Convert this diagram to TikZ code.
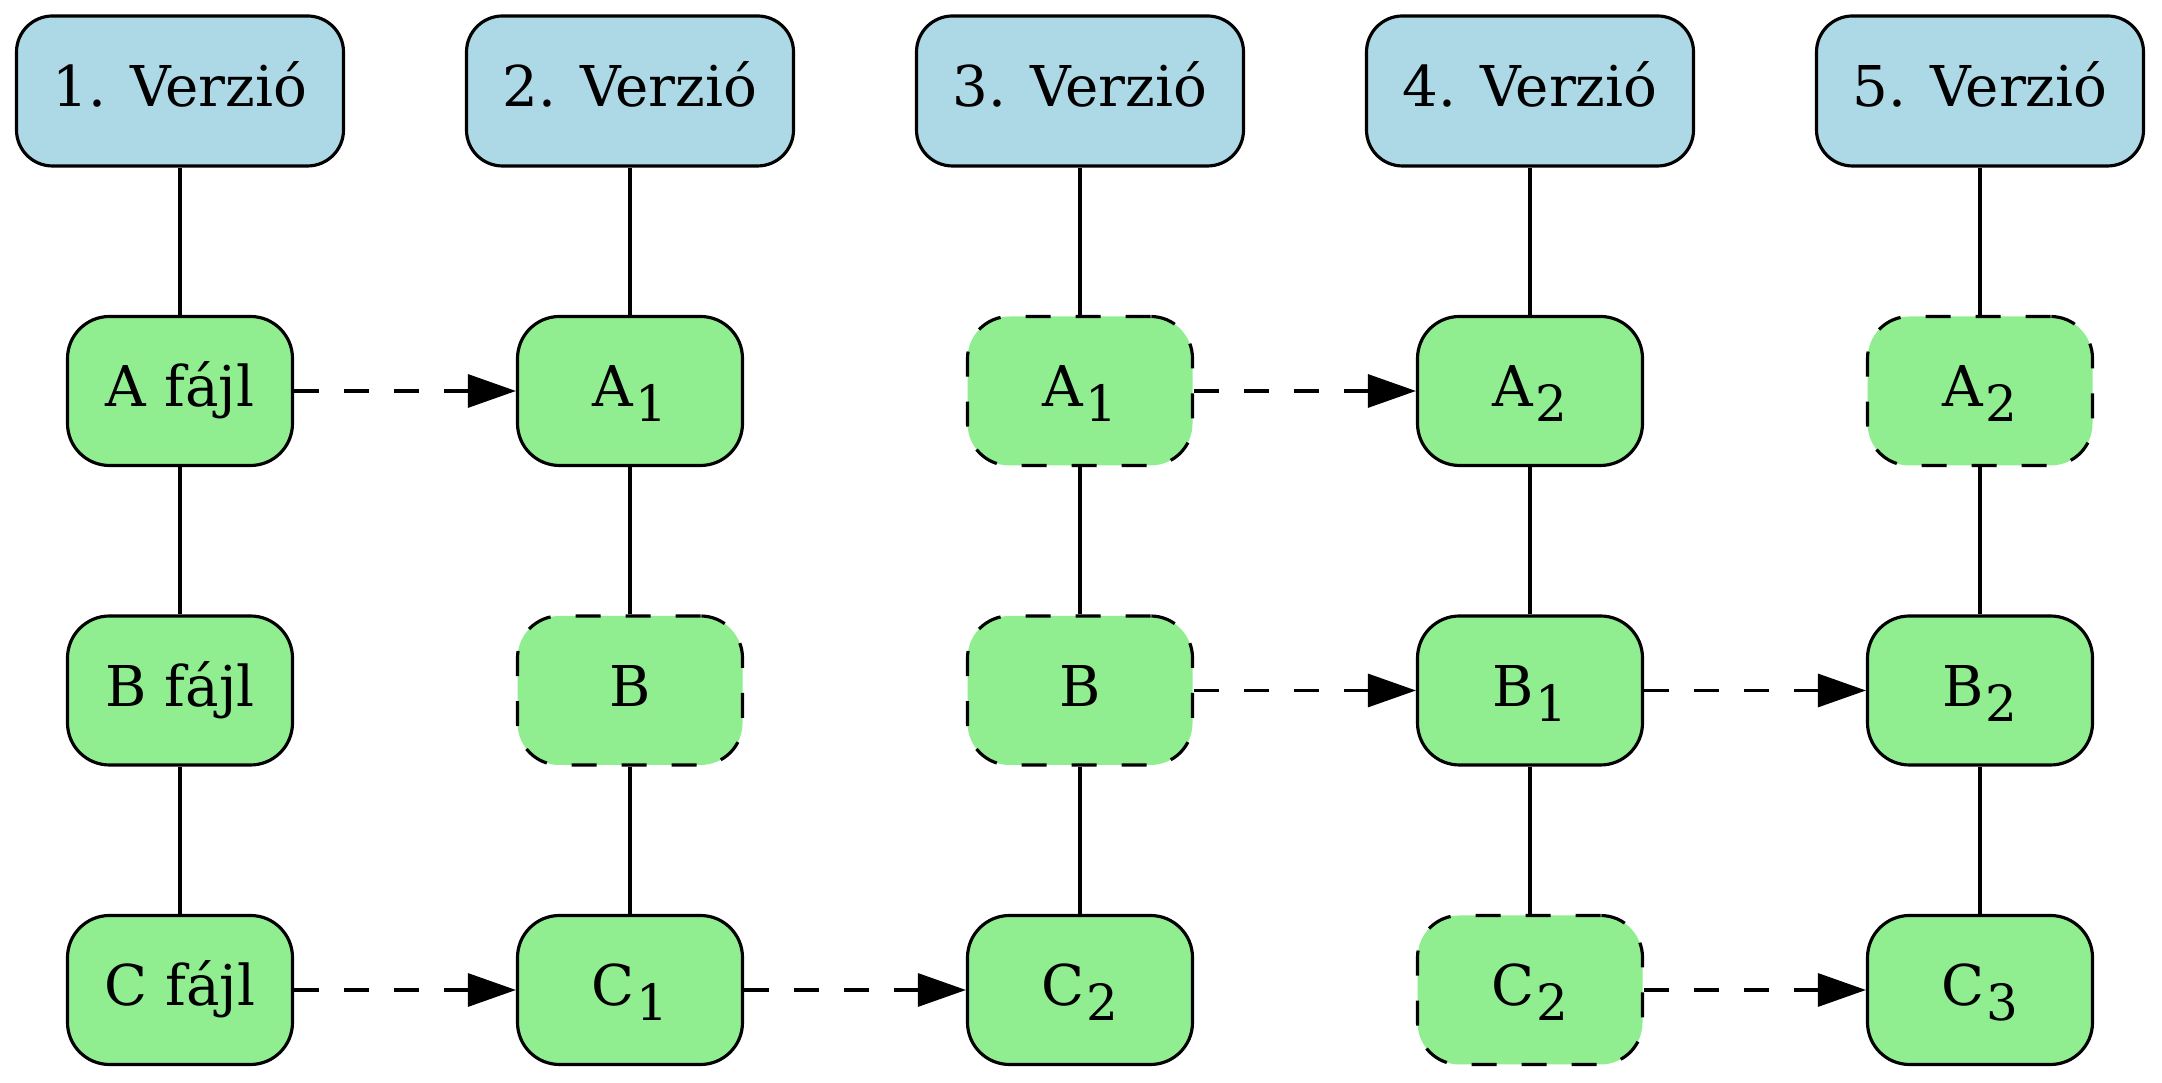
\documentclass[tikz,border=0pt]{standalone}
\usepackage{fontspec}
\setmainfont{DejaVu Serif}
\usepackage{xcolor}
\usetikzlibrary{arrows.meta}

\definecolor{verblue}{HTML}{ADD8E6}
\definecolor{filegreen}{HTML}{90EE90}
\newcommand{\vsub}[1]{\kern0.5pt\raisebox{-4.3pt}{\fontsize{14.2}{15}\selectfont #1}}

\tikzset{
  version/.style={draw, line width=0.9pt, fill=verblue, rounded corners=0.36cm,
    minimum width=3.27cm, minimum height=1.5cm, text height=12pt, text depth=3pt,
    font=\fontsize{16}{19}\selectfont},
  file/.style={draw, line width=0.9pt, fill=filegreen, rounded corners=0.42cm,
    minimum width=2.25cm, minimum height=1.49cm, text height=12pt, text depth=3pt,
    font=\fontsize{16}{19}\selectfont},
  kept/.style={file, dash pattern=on 0.25cm off 0.25cm},
  link/.style={line width=0.9pt},
  change/.style={line width=0.9pt, dash pattern=on 0.25cm off 0.25cm,
    -{Triangle[length=0.48cm, width=0.33cm]}}
}

\begin{document}
\begin{tikzpicture}
  \useasboundingbox (0,0) rectangle (21.62,10.83);

  \node[version] (v1) at (1.80,9.92) {1. Verzió};
  \node[version] (v2) at (6.30,9.92) {2. Verzió};
  \node[version] (v3) at (10.80,9.92) {3. Verzió};
  \node[version] (v4) at (15.30,9.92) {4. Verzió};
  \node[version] (v5) at (19.80,9.92) {5. Verzió};

  \node[file] (a1) at (1.80,6.92) {A fájl};
  \node[file] (b1) at (1.80,3.925) {B fájl};
  \node[file] (c1) at (1.80,0.93) {C fájl};

  \node[file] (a2) at (6.30,6.92) {A\vsub{1}};
  \node[kept] (b2) at (6.30,3.925) {B};
  \node[file] (c2) at (6.30,0.93) {C\vsub{1}};

  \node[kept] (a3) at (10.80,6.92) {A\vsub{1}};
  \node[kept] (b3) at (10.80,3.925) {B};
  \node[file] (c3) at (10.80,0.93) {C\vsub{2}};

  \node[file] (a4) at (15.30,6.92) {A\vsub{2}};
  \node[file] (b4) at (15.30,3.925) {B\vsub{1}};
  \node[kept] (c4) at (15.30,0.93) {C\vsub{2}};

  \node[kept] (a5) at (19.80,6.92) {A\vsub{2}};
  \node[file] (b5) at (19.80,3.925) {B\vsub{2}};
  \node[file] (c5) at (19.80,0.93) {C\vsub{3}};

  % versions hold their files
  \draw[link] (v1) -- (a1);
  \draw[link] (a1) -- (b1);
  \draw[link] (b1) -- (c1);

  \draw[link] (v2) -- (a2);
  \draw[link] (a2) -- (b2);
  \draw[link] (b2) -- (c2);

  \draw[link] (v3) -- (a3);
  \draw[link] (a3) -- (b3);
  \draw[link] (b3) -- (c3);

  \draw[link] (v4) -- (a4);
  \draw[link] (a4) -- (b4);
  \draw[link] (b4) -- (c4);

  \draw[link] (v5) -- (a5);
  \draw[link] (a5) -- (b5);
  \draw[link] (b5) -- (c5);

  % changes between versions
  \draw[change] (a1) -- (a2);
  \draw[change] (c1) -- (c2);
  \draw[change] (c2) -- (c3);
  \draw[change] (a3) -- (a4);
  \draw[change] (b3) -- (b4);
  \draw[change] (b4) -- (b5);
  \draw[change] (c4) -- (c5);

\end{tikzpicture}
\end{document}
